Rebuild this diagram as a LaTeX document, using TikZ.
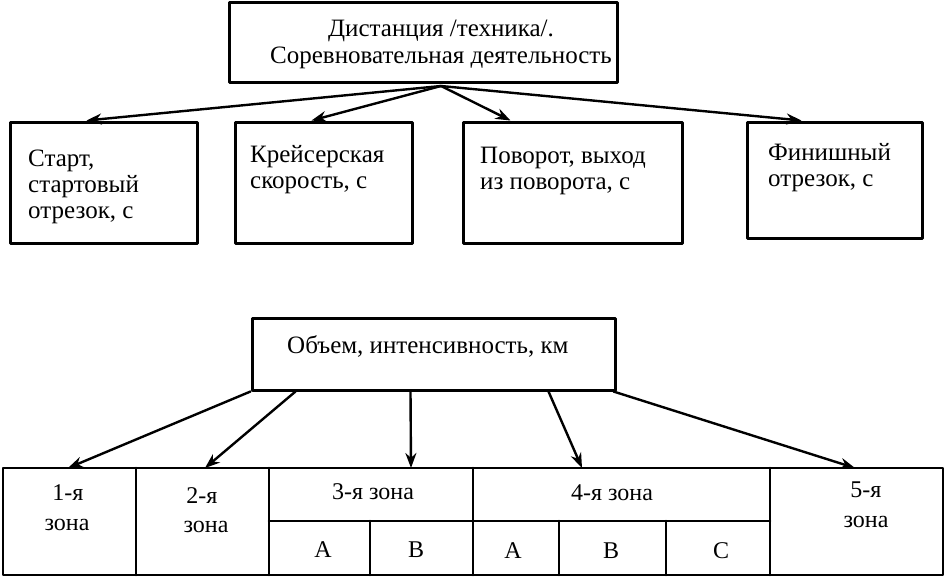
\documentclass[tikz,border=0pt]{standalone}
\usepackage{fontspec}
\setmainfont{Liberation Serif}
\usetikzlibrary{arrows.meta}
\tikzset{
  box/.style={draw, line width=3pt, inner sep=0pt},
  txt/.style={font=\fontsize{25}{26}\selectfont, inner sep=0pt, align=left, anchor=base west},
  cell/.style={font=\fontsize{24}{29}\selectfont, inner sep=0pt, anchor=base},
  link/.style={line width=2.4pt, ->},
  grid/.style={line width=2.6pt},
}
\begin{document}
\begin{tikzpicture}[x=1pt, y=-1pt, line join=round, line cap=round, >={Stealth[length=15pt,width=11pt]}]
\useasboundingbox (0,0) rectangle (945,576);
% верхняя схема
\node[box, minimum width=388, minimum height=80] (dist) at (423,42) {};
\node[txt, font=\fontsize{25}{27}\selectfont, align=center, anchor=base] (distT) at (441,63) {Дистанция /техника/.\\Соревновательная деятельность};
\node[box, minimum width=187, minimum height=121] (start) at (103.5,182.5) {};
\node[box, minimum width=177, minimum height=121] (cruise) at (323.5,182.5) {};
\node[box, minimum width=219, minimum height=121] (turn) at (572.5,182.5) {};
\node[box, minimum width=175, minimum height=116] (finish) at (834.5,180) {};
\node[txt] (startT) at (28,218) {Старт,\\стартовый\\отрезок, с};
\node[txt] (cruiseT) at (250,188) {Крейсерская\\скорость, с};
\node[txt] (turnT) at (480,189) {Поворот, выход\\из поворота, с};
\node[txt] (finishT) at (768,186) {Финишный\\отрезок, с};
\coordinate (hub) at (441,86);
\draw[link] (hub) -- ([xshift=78pt]start.north west);
\draw[link] (hub) -- ([xshift=78pt]cruise.north west);
\draw[link] (hub) -- ([xshift=49pt]turn.north west);
\draw[link] (hub) -- ([xshift=56pt]finish.north west);
% нижняя схема
\node[box, minimum width=363, minimum height=72] (vol) at (433.5,354) {};
\node[txt] (volT) at (287,353) {Объем, интенсивность, км};
\foreach \n/\x in {1/68,2/205,3/411,4/582,5/855} \coordinate (top\n) at (\x,468);
\foreach \s/\n in {0/1,45/2,160/3,298/4,363/5} \draw[link] ([xshift=\s pt]vol.south west) -- (top\n);
% таблица зон
\draw[grid] (3,468) rectangle (943,575);
\draw[grid] (136,468) -- (136,575) (269,468) -- (269,575) (473,468) -- (473,575) (770,468) -- (770,575);
\draw[grid] (269,521) -- (770,521);
\draw[grid] (370,521) -- (370,575) (559,521) -- (559,575) (666,521) -- (666,575);
\foreach \t/\x/\y [count=\i] in {1-я/68/500, зона/67/530, 2-я/202/503, зона/206/532, 3-я зона/373/499, 4-я зона/612/500, 5-я/866/497, зона/866/527, A/323/557, B/416/557, A/513/558, B/611/558, C/721/558}
  \node[cell] (lab\i) at (\x,\y) {\t};
\end{tikzpicture}
\end{document}
